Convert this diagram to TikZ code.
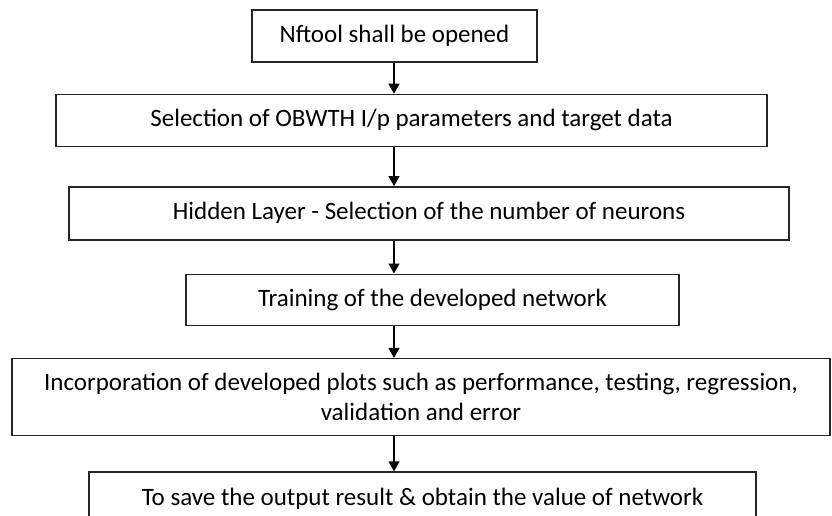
\documentclass[tikz,border=0pt]{standalone}
\usepackage{fontspec}
\setmainfont{Carlito}
\usetikzlibrary{positioning,arrows.meta}

\begin{document}
\begin{tikzpicture}[x=1pt,y=-1pt,
        every node/.style={
                draw=black!85,
                line width=1.4pt,
                align=center,
                inner sep=0pt,
                font=\fontsize{25}{30}\selectfont},
        flow/.style={-{Triangle[length=10pt,width=11pt]},line width=1.4pt}]

    \useasboundingbox (0,0) rectangle (832,516);
    \clip (0,0) rectangle (832,516);

    \node (open) [minimum width=285pt,minimum height=52pt] at (394.5,36) {Nftool shall be opened};
    \node (inputs) [below=31pt of open,xshift=17pt,minimum width=711pt,minimum height=52pt] {Selection of OBWTH I/p parameters and target data};
    \node (hidden) [below=39pt of inputs,xshift=17.5pt,minimum width=720pt,minimum height=53pt] {Hidden Layer - Selection of the number of neurons};
    \node (train) [below=33pt of hidden,xshift=3.5pt,minimum width=493pt,minimum height=51pt] {Training of the developed network};
    \node (plots) [below=32pt of train,xshift=-11.5pt,minimum width=818pt,minimum height=77pt] {Incorporation of developed plots such as performance, testing, regression,\\validation and error};
    \node (save) [below=35pt of plots,xshift=1.5pt,minimum width=667pt,minimum height=54pt] {To save the output result \& obtain the value of network};

    % arrows all run down the same vertical line
    \coordinate (spine) at (394,0);
    \draw[flow] (open.south -| spine) -- (inputs.north -| spine);
    \draw[flow] (inputs.south -| spine) -- (hidden.north -| spine);
    \draw[flow] (hidden.south -| spine) -- (train.north -| spine);
    \draw[flow] (train.south -| spine) -- (plots.north -| spine);
    \draw[flow] (plots.south -| spine) -- (save.north -| spine);

\end{tikzpicture}
\end{document}
